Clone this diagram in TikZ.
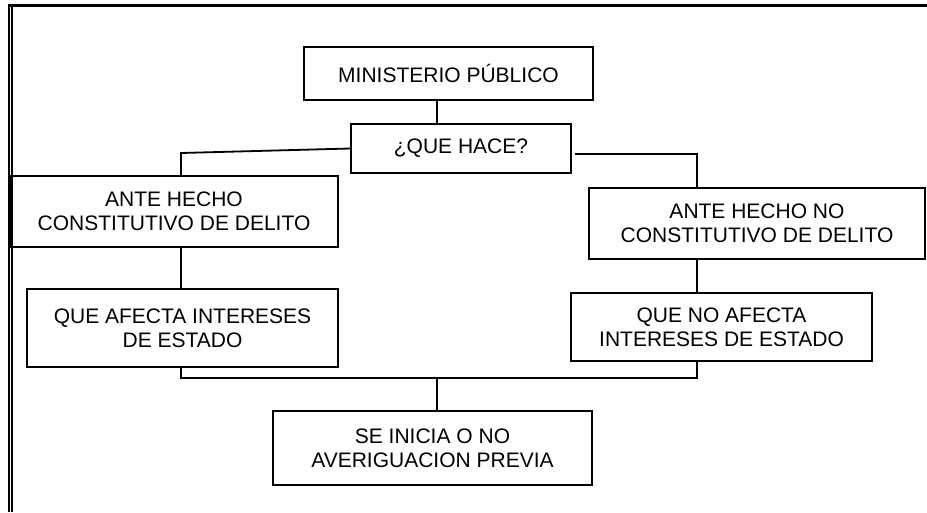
\documentclass[tikz,border=0pt]{standalone}
\usepackage{fontspec}
\setmainfont{Liberation Sans}
\usetikzlibrary{positioning,calc}

\begin{document}
\begin{tikzpicture}[x=1pt,y=-1pt,
  caja/.style={draw,line width=1.8pt,align=center,inner sep=0pt,font=\fontsize{21}{24}\selectfont},
  linea/.style={line width=1.8pt}]
  \useasboundingbox (0,0) rectangle (927,512);
  % marco de la pagina
  \draw[line width=3pt] (8,5.5) -- (927,5.5);
  \draw[line width=2.3pt] (9.2,4) -- (9.2,512);
  \draw[line width=1.5pt] (12,7) -- (12,512);
  % cajas
  \node[caja,minimum width=289pt,minimum height=53pt] (mp) at (448.5,73.5) {MINISTERIO PÚBLICO};
  \node[caja,minimum width=220pt,minimum height=49pt] (hace) at (461,148.5) {¿QUE HACE?};
  \node[caja,minimum width=328pt,minimum height=71pt] (dlt) at (174,211.5) {ANTE HECHO\\CONSTITUTIVO DE DELITO};
  \node[caja,minimum width=336pt,minimum height=71pt] (ndlt) at (757,223.5) {ANTE HECHO NO\\CONSTITUTIVO DE DELITO};
  \node[caja,minimum width=311pt,minimum height=78pt] (afe) at (182.5,328) {QUE AFECTA INTERESES\\DE ESTADO};
  \node[caja,minimum width=301pt,minimum height=68pt,line width=2.2pt] (nafe) at (721.5,327) {QUE NO AFECTA\\INTERESES DE ESTADO};
  \node[caja,minimum width=319pt,minimum height=74pt] (ini) at (432.5,448) {SE INICIA O NO\\AVERIGUACION PREVIA};
  % puntos de union
  \coordinate (c1) at (437,112);
  \coordinate (lt) at (181,153);
  \coordinate (rt) at (697,154);
  \coordinate (bj) at (437,378);
  % conectores
  \draw[linea] (mp.south -| c1) -- (hace.north -| c1);
  \draw[linea] (hace.west) -- (lt) -- (lt |- dlt.north);
  \draw[linea] ([xshift=3pt]hace.east |- rt) -- (rt) -- (rt |- ndlt.north);
  \draw[linea] (lt |- dlt.south) -- (lt |- afe.north);
  \draw[linea] (rt |- ndlt.south) -- (rt |- nafe.north);
  \draw[linea] (lt |- afe.south) -- (lt |- bj) -- (rt |- bj) -- (rt |- nafe.south);
  \draw[linea] (bj) -- (bj |- ini.north);
\end{tikzpicture}
\end{document}
